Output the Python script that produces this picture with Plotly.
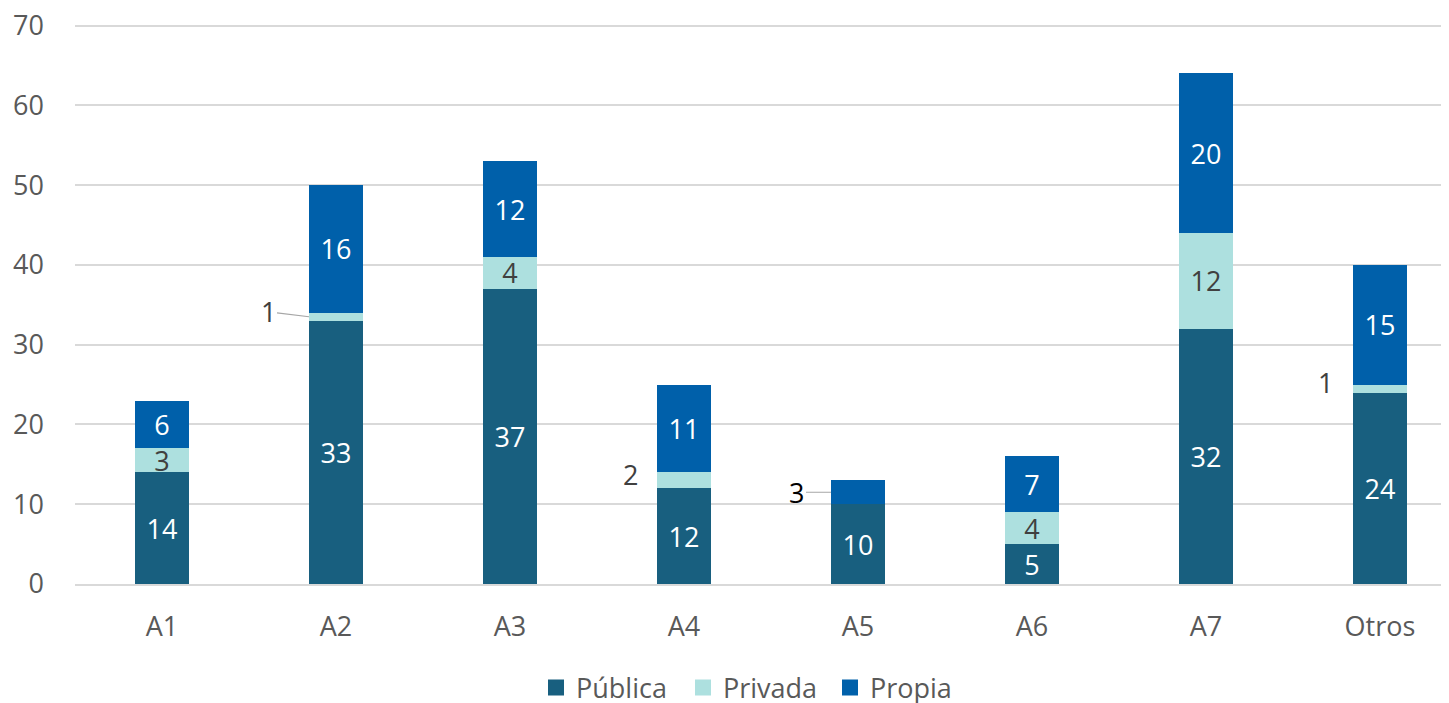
import plotly.graph_objects as go

categories = ['A1', 'A2', 'A3', 'A4', 'A5', 'A6', 'A7', 'Otros']
publica = [14, 33, 37, 12, 10, 5, 32, 24]
privada = [3, 1, 4, 2, 0, 4, 12, 1]
propia = [6, 16, 12, 11, 3, 7, 20, 15]

COLORS = {'Pública': '#185F7F', 'Privada': '#ADE0DF', 'Propia': '#0060AA'}
FONT = 'Open Sans'
FS = 27

# small segments labelled outside the bar (category index, series)
outside_privada = {1, 3, 7}
outside_propia = {4}


def labels(vals, skip=()):
    return ['' if (i in skip or v == 0) else str(v) for i, v in enumerate(vals)]


fig = go.Figure()
for name, vals, tcolor, skip in [
    ('Pública', publica, 'white', ()),
    ('Privada', privada, '#404040', outside_privada),
    ('Propia', propia, 'white', outside_propia),
]:
    fig.add_trace(go.Bar(
        x=list(range(len(categories))), y=vals, name=name,
        marker=dict(color=COLORS[name], line=dict(width=0)),
        width=0.31, showlegend=False,
        text=labels(vals, skip), textposition='inside', textangle=0,
        insidetextanchor='middle', constraintext='none',
        textfont=dict(family=FONT, size=FS, color=tcolor),
        hoverinfo='skip',
    ))

# legend entries with larger square swatches
for name in ['Pública', 'Privada', 'Propia']:
    fig.add_trace(go.Scatter(
        x=[None], y=[None], mode='markers', name=name,
        marker=dict(symbol='square', size=20, color=COLORS[name]),
        showlegend=True, hoverinfo='skip'))

# outside labels
for i in sorted(outside_privada):
    yv = publica[i] + privada[i] / 2
    with_line = i == 1
    fig.add_annotation(
        x=i - 0.155, y=yv, xref='x', yref='y', text=str(privada[i]),
        showarrow=True, arrowhead=0, arrowwidth=1.2,
        arrowcolor='#A6A6A6' if with_line else 'rgba(0,0,0,0)',
        ax=-41 if with_line else -27, ay=-5 if with_line else -6,
        font=dict(family=FONT, size=FS, color='#404040'))
for i in sorted(outside_propia):
    yv = publica[i] + privada[i] + propia[i] / 2
    fig.add_annotation(
        x=i - 0.155, y=yv, xref='x', yref='y', text=str(propia[i]),
        showarrow=True, arrowhead=0, arrowwidth=1.2, arrowcolor='#A6A6A6',
        ax=-34, ay=0,
        font=dict(family=FONT, size=FS, color='black'))

fig.update_layout(
    barmode='stack',
    width=1441, height=695,
    margin=dict(l=67, r=4, t=16, b=119, autoexpand=False),
    paper_bgcolor='white', plot_bgcolor='white',
    font=dict(family=FONT, size=FS, color='#595959'),
    showlegend=True,
    legend=dict(orientation='h', x=0.3365, xanchor='left', y=-0.142, yanchor='top',
                font=dict(family=FONT, size=FS, color='#595959'),
                itemwidth=30, traceorder='normal',
                entrywidth=102, entrywidthmode='pixels'),
    xaxis=dict(tickmode='array', tickvals=list(range(len(categories))), ticktext=categories,
               range=[-0.5, 7.374], showgrid=False, zeroline=False, automargin=False,
               showline=True, linecolor='#D9D9D9', linewidth=1.5,
               ticks='', ticklabelstandoff=18, tickfont=dict(size=FS, color='#595959')),
    yaxis=dict(range=[0, 70.2], tickvals=[0, 10, 20, 30, 40, 50, 60, 70],
               showgrid=True, gridcolor='#D9D9D9', gridwidth=1.5,
               zeroline=False, ticks='', ticklabelstandoff=30, automargin=False,
               ticklabeloverflow='allow',
               tickfont=dict(size=FS, color='#595959')),
)

fig.write_html('out.html')
